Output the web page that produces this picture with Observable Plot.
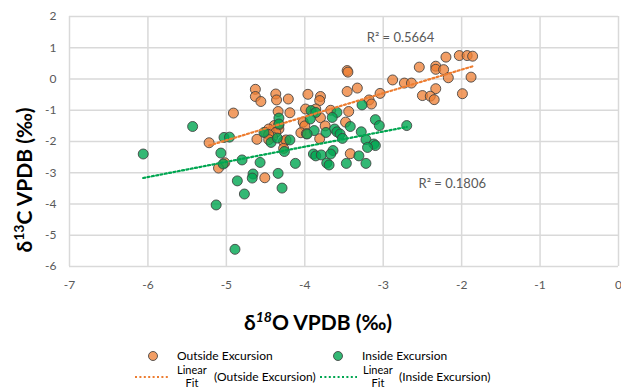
<!DOCTYPE html>
<html>
<head>
<meta charset="utf-8">
<script src="https://cdn.jsdelivr.net/npm/d3@7"></script>
<script src="https://cdn.jsdelivr.net/npm/@observablehq/plot@0.6"></script>
<style>
  body { margin: 0; background: white; }
  #chart svg { display: block; }
  #legend { display: block; }
</style>
</head>
<body>
<div id="chart"></div>
<script>
// Tick labels
const xTicks = [-7, -6, -5, -4, -3, -2, -1, 0];
const yTicks = [-6, -5, -4, -3, -2, -1, 0, 1, 2];

// Outside Excursion (δ18O, δ13C)
const outsideX = [-2.20, -2.03, -1.93, -1.86, -2.54, -2.33, -2.33, -2.23, -2.17, -1.88,
  -2.88, -2.73, -2.64, -2.33, -2.50, -2.40, -2.35, -1.99, -3.04, -3.33,
  -3.18, -3.15, -3.46, -3.45, -3.46, -4.63, -4.63, -4.56, -4.37, -4.36,
  -4.21, -3.96, -3.80, -3.81, -4.91, -4.34, -4.19, -3.99, -3.86, -3.67,
  -3.44, -3.80, -4.02, -4.00, -3.74, -3.48, -4.39, -4.46, -4.50, -4.33,
  -4.33, -4.37, -4.41, -4.46, -4.05, -3.98, -4.61, -4.46, -4.27, -4.24,
  -4.27, -3.81, -3.42, -5.22, -5.02, -5.10, -4.51];
const outsideY = [0.70, 0.75, 0.75, 0.73, 0.38, 0.41, 0.31, 0.30, 0.04, 0.06,
  -0.03, -0.13, -0.13, -0.31, -0.53, -0.55, -0.66, -0.47, -0.46, -0.29,
  -0.67, -0.80, 0.27, 0.22, -0.40, -0.33, -0.56, -0.72, -0.48, -0.67,
  -0.64, -0.49, -0.56, -0.69, -1.09, -1.04, -1.08, -0.96, -0.96, -1.00,
  -1.04, -1.24, -1.38, -1.50, -1.50, -1.38, -1.49, -1.60, -1.71, -1.60,
  -1.47, -1.71, -1.86, -1.78, -1.72, -1.75, -1.93, -1.94, -2.00, -1.95,
  -2.22, -1.91, -2.39, -2.04, -2.68, -2.85, -3.16];

// Inside Excursion (δ18O, δ13C)
const insideX = [-6.06, -5.43, -5.03, -4.96, -5.07, -5.04, -4.80, -4.57, -4.66, -4.67,
  -4.86, -4.77, -5.13, -4.89, -4.34, -4.29, -4.12, -4.52, -4.43, -4.33,
  -4.33, -4.35, -4.19, -4.26, -3.92, -3.86, -3.93, -3.59, -3.65, -3.27,
  -3.10, -3.05, -3.42, -3.88, -3.97, -3.62, -3.59, -3.55, -3.52, -3.73,
  -3.28, -3.22, -3.12, -3.10, -3.20, -3.89, -3.86, -3.79, -3.64, -3.67,
  -3.72, -3.69, -3.47, -3.31, -3.22, -2.70];
const insideY = [-2.40, -1.52, -1.87, -1.86, -2.37, -2.72, -2.59, -2.67, -3.04, -3.17,
  -3.26, -3.68, -4.03, -5.45, -3.02, -3.49, -2.70, -1.71, -2.03, -1.25,
  -1.44, -1.89, -1.95, -2.32, -1.01, -1.07, -1.28, -1.07, -1.23, -0.83,
  -1.30, -1.49, -1.52, -1.65, -1.76, -1.60, -1.69, -1.76, -1.90, -1.71,
  -1.69, -1.94, -2.08, -2.13, -2.19, -2.40, -2.46, -2.43, -2.29, -2.40,
  -2.69, -2.75, -2.70, -2.46, -2.70, -1.49];

const r2Outside = "R² = 0.5664";
const r2Inside = "R² = 0.1806";

const outside = outsideX.map((x, i) => ({x, y: outsideY[i]}));
const inside = insideX.map((x, i) => ({x, y: insideY[i]}));

const ORANGE = "#ED7D31";
const GREEN = "#00A651";
const FONT = "Lato, Carlito, 'Open Sans', sans-serif";
const DASH = "2,2.4";

const chart = Plot.plot({
  width: 621,
  height: 340,
  marginLeft: 69,
  marginRight: 3,
  marginTop: 16,
  marginBottom: 74,
  style: {fontFamily: FONT, fontSize: "12px", color: "#595959", background: "white", overflow: "visible"},
  x: {domain: [-7, 0], ticks: xTicks, tickSize: 0, tickPadding: 14, tickFormat: d => String(d), label: null},
  y: {domain: [-6, 2], ticks: yTicks, tickSize: 0, tickPadding: 13, tickFormat: d => String(d), label: null},
  marks: [
    Plot.ruleX(xTicks, {stroke: "#D9D9D9", strokeWidth: 1.5}),
    Plot.ruleY(yTicks, {stroke: "#D9D9D9", strokeWidth: 1.5}),
    Plot.dot(outside, {x: "x", y: "y", r: 5, fill: ORANGE, fillOpacity: 0.75, stroke: "#404040", strokeOpacity: 0.85, strokeWidth: 1}),
    Plot.dot(inside, {x: "x", y: "y", r: 5, fill: GREEN, fillOpacity: 0.8, stroke: "#404040", strokeOpacity: 0.85, strokeWidth: 1}),
    Plot.linearRegressionY(outside, {x: "x", y: "y", stroke: ORANGE, strokeWidth: 2.2, strokeDasharray: DASH, ci: 0}),
    Plot.linearRegressionY(inside, {x: "x", y: "y", stroke: GREEN, strokeWidth: 2.2, strokeDasharray: DASH, ci: 0}),
    Plot.text([r2Outside], {x: -3.21, y: 1.33, text: d => d, textAnchor: "start", fill: "#595959", fontSize: 13}),
    Plot.text([r2Inside], {x: -2.55, y: -3.35, text: d => d, textAnchor: "start", fill: "#595959", fontSize: 13})
  ]
});
document.getElementById("chart").appendChild(chart);

// Axis titles with superscripts
const svg = d3.select(chart);
const xt = svg.append("text")
  .attr("x", 318).attr("y", 330)
  .attr("text-anchor", "middle")
  .attr("font-family", FONT).attr("font-weight", "bold").attr("font-size", 21)
  .attr("fill", "#000");
xt.append("tspan").text("δ");
xt.append("tspan").attr("font-size", 14).attr("font-style", "italic").attr("dy", -8).text("18");
xt.append("tspan").attr("dy", 8).text("O VPDB (‰)");

const yt = svg.append("text")
  .attr("transform", "translate(32,180) rotate(-90)")
  .attr("text-anchor", "middle")
  .attr("font-family", FONT).attr("font-weight", "bold").attr("font-size", 21)
  .attr("fill", "#000");
yt.append("tspan").text("δ");
yt.append("tspan").attr("font-size", 14).attr("dy", -8).text("13");
yt.append("tspan").attr("dy", 8).text("C VPDB (‰)");

// Legend
const legendItems = [
  {label: "Outside Excursion", color: ORANGE, op: 0.75, cx: 153, tx: 177, lx1: 135, lx2: 170, fx: 177, px: 214, fit: "(Outside Excursion)"},
  {label: "Inside Excursion", color: GREEN, op: 0.8, cx: 338, tx: 362, lx1: 320, lx2: 357, fx: 363, px: 399, fit: "(Inside Excursion)"}
];
const lg = d3.select("body").append("svg").attr("id", "legend").attr("width", 621).attr("height", 50)
  .attr("font-family", FONT).attr("font-size", 12).attr("fill", "#000");
for (const it of legendItems) {
  lg.append("circle").attr("cx", it.cx).attr("cy", 16).attr("r", 4.5)
    .attr("fill", it.color).attr("fill-opacity", it.op).attr("stroke", "#404040").attr("stroke-opacity", 0.85);
  lg.append("text").attr("x", it.tx).attr("y", 16).attr("dy", "0.35em").text(it.label);
  lg.append("line").attr("x1", it.lx1).attr("x2", it.lx2).attr("y1", 37).attr("y2", 37)
    .attr("stroke", it.color).attr("stroke-width", 2.2).attr("stroke-dasharray", DASH);
  lg.append("text").attr("x", it.fx).attr("y", 30).attr("dy", "0.35em").attr("font-size", 11).text("Linear");
  lg.append("text").attr("x", it.fx + 15).attr("y", 43).attr("dy", "0.35em").attr("font-size", 11).attr("text-anchor", "middle").text("Fit");
  lg.append("text").attr("x", it.px).attr("y", 37).attr("dy", "0.35em").text(it.fit);
}
</script>
</body>
</html>
